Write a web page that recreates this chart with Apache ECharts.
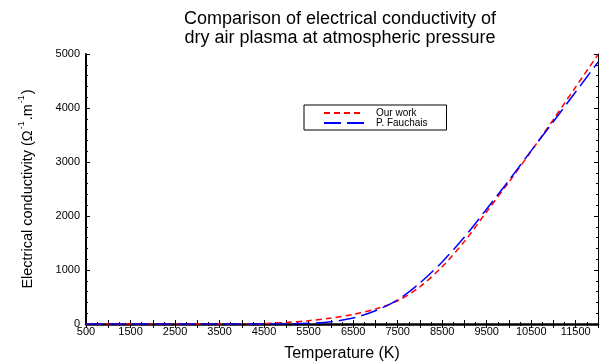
<!DOCTYPE html>
<html>
<head>
<meta charset="utf-8">
<script src="https://cdn.jsdelivr.net/npm/echarts@6/dist/echarts.min.js"></script>
<style>html,body{margin:0;padding:0;background:#fff}#c{width:601px;height:364px}</style>
</head>
<body>
<div id="c"></div>
<script>
var temps = [500,1000,1500,2000,2500,3000,3500,4000,4500,5000,5500,6000,6500,7000,7500,8000,8500,9000,9500,10000,10500,11000,11500,12000];
var ourWork = [0,0,0,0,0,0,0,0,8,28,62,110,178,275,430,690,1060,1530,2080,2630,3200,3790,4390,4990];
var fauchais = [0,0,0,0,0,0,0,0,0,3,12,42,110,245,445,760,1150,1610,2130,2660,3210,3750,4300,4850];
var xTickLabels = [500,1500,2500,3500,4500,5500,6500,7500,8500,9500,10500,11500];

function pairs(xs, ys){ return xs.map(function(x,i){ return [x, ys[i]]; }); }

var font = '"Liberation Sans", Arial, sans-serif';
var chart = echarts.init(document.getElementById('c'), null, {renderer:'canvas'});
var baseX = {
  type:'value', min:500, max:12000, interval:500,
  splitLine:{show:false},
  axisTick:{show:true, inside:true, length:4, lineStyle:{color:'#000', width:1}},
  minorTick:{show:true, splitNumber:2, length:2, lineStyle:{color:'#000', width:1}},
  minorSplitLine:{show:false}
};
var baseY = {
  type:'value', min:0, max:5000, interval:1000,
  splitLine:{show:false},
  axisTick:{show:true, inside:true, length:4, lineStyle:{color:'#000', width:1}},
  minorTick:{show:true, splitNumber:5, length:2, lineStyle:{color:'#000', width:1}},
  minorSplitLine:{show:false}
};
chart.setOption({
  animation:false,
  backgroundColor:'#fff',
  textStyle:{fontFamily:font},
  title:{
    text:'Comparison of electrical conductivity of\ndry air plasma at atmospheric pressure',
    left:335, top:5, textAlign:'center',
    textStyle:{fontFamily:font, fontSize:18, fontWeight:'normal', color:'#000', lineHeight:19}
  },
  legend:{
    orient:'vertical', left:304, top:105,
    padding:[3,19,2,19], itemGap:0, itemWidth:40, itemHeight:9,
    borderColor:'#000', borderWidth:1, borderRadius:0, backgroundColor:'#fff',
    itemStyle:{opacity:0},
    textStyle:{fontFamily:font, fontSize:10, color:'#000', padding:[0,0,0,7]},
    data:['Our work','P. Fauchais']
  },
  grid:{left:86, right:3, top:54, bottom:40, containLabel:false, outerBoundsMode:'none'},
  xAxis:[
    Object.assign({}, baseX, {
      position:'bottom',
      name:'Temperature (K)', nameLocation:'middle', nameGap:22,
      nameTextStyle:{fontFamily:font, fontSize:16, color:'#000'},
      axisLine:{show:true, lineStyle:{color:'#000', width:2.5}},
      axisLabel:{show:true, fontFamily:font, fontSize:11, color:'#000', margin:2,
        showMaxLabel:false,
        formatter:function(v){ return xTickLabels.indexOf(v) >= 0 ? String(v) : ''; }}
    }),
    Object.assign({}, baseX, {
      position:'top',
      axisLine:{show:true, lineStyle:{color:'#000', width:1}},
      axisLabel:{show:false}
    })
  ],
  yAxis:[
    Object.assign({}, baseY, {
      position:'left',
      name:'{a|Electrical conductivity (Ω}{s|-1}{a|.m}{s|-1}{a|)}',
      nameLocation:'middle', nameGap:51,
      nameTextStyle:{fontFamily:font, color:'#000',
        rich:{
          a:{fontFamily:font, fontSize:14.5, color:'#000', lineHeight:18, verticalAlign:'bottom'},
          s:{fontFamily:font, fontSize:9, color:'#000', lineHeight:18, verticalAlign:'top', padding:[0,1,0,1]}
        }},
      axisLine:{show:true, lineStyle:{color:'#000', width:2}},
      axisLabel:{show:true, fontFamily:font, fontSize:11, color:'#000', margin:6,
        formatter:function(v){ return String(v); }}
    }),
    Object.assign({}, baseY, {
      position:'right',
      axisLine:{show:true, lineStyle:{color:'#000', width:1}},
      axisLabel:{show:false}
    })
  ],
  series:[
    {
      name:'Our work', type:'line', xAxisIndex:0, yAxisIndex:0,
      data:pairs(temps, ourWork), smooth:0.3, showSymbol:false, symbol:'none',
      lineStyle:{color:'#ff0000', width:1.5, type:[6,4]}, itemStyle:{color:'#ff0000'}
    },
    {
      name:'P. Fauchais', type:'line', xAxisIndex:0, yAxisIndex:0,
      data:pairs(temps, fauchais), smooth:0.3, showSymbol:false, symbol:'none',
      lineStyle:{color:'#0000ff', width:1.5, type:[17,6]}, itemStyle:{color:'#0000ff'}
    }
  ]
});
</script>
</body>
</html>
